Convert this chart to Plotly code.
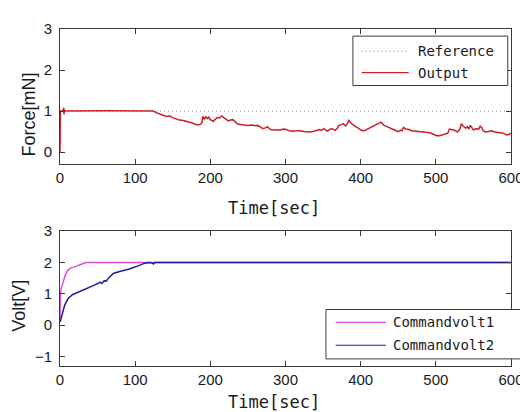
import plotly.graph_objects as go

# ---------------- data ----------------
ref_time = [0, 600]
ref_force = [1.0, 1.0]

out_time = [0, 0.5, 4, 4.8, 5.3, 5.8, 6.5, 60, 124,
            128, 133, 138, 142, 146, 150, 155, 159, 164, 168, 172, 176, 180, 184, 187, 189, 190,
            192, 194, 196, 198, 200, 202, 204, 206, 209, 212, 215, 217, 219, 222, 224, 227, 230,
            233, 235, 238, 241, 245, 250, 255, 260, 263, 267, 270, 273, 276, 278, 280, 285, 290,
            293, 297, 301, 305, 310, 315, 319, 325, 332, 338, 345, 348, 351, 354, 356, 359, 362,
            366, 369, 371, 374, 377, 380, 382, 384, 386, 388, 391, 395, 398, 401, 405, 410, 413,
            416, 420, 423, 425, 427, 429, 431, 435, 440, 444, 447, 450, 453, 455, 457, 460, 464,
            468, 472, 475, 479, 483, 488, 492, 496, 501, 505, 509, 513, 516, 518, 521, 525, 527,
            529, 532, 534, 536, 538, 540, 542, 544, 546, 548, 550, 553, 557, 559, 561, 563, 566,
            570, 574, 578, 583, 587, 590, 594, 597, 600]
out_force = [0.0, 1.0, 1.0, 1.08, 0.92, 1.04, 1.0, 1.01, 1.0,
             0.96, 0.92, 0.89, 0.87, 0.88, 0.84, 0.81, 0.78, 0.77, 0.75, 0.74, 0.71, 0.68, 0.66, 0.68, 0.72, 0.87,
             0.80, 0.86, 0.82, 0.85, 0.79, 0.77, 0.75, 0.79, 0.84, 0.83, 0.88, 0.85, 0.82, 0.79, 0.76, 0.78, 0.79,
             0.74, 0.70, 0.68, 0.67, 0.66, 0.65, 0.66, 0.64, 0.65, 0.61, 0.57, 0.59, 0.62, 0.58, 0.55, 0.54, 0.53,
             0.54, 0.56, 0.55, 0.52, 0.51, 0.52, 0.52, 0.50, 0.49, 0.51, 0.55, 0.53, 0.57, 0.53, 0.51, 0.56, 0.57,
             0.53, 0.58, 0.65, 0.67, 0.69, 0.64, 0.68, 0.77, 0.72, 0.69, 0.65, 0.61, 0.57, 0.53, 0.52, 0.57, 0.58,
             0.63, 0.66, 0.68, 0.70, 0.73, 0.69, 0.65, 0.62, 0.57, 0.55, 0.52, 0.50, 0.53, 0.52, 0.60, 0.56, 0.55,
             0.52, 0.51, 0.52, 0.50, 0.49, 0.48, 0.47, 0.44, 0.40, 0.40, 0.42, 0.44, 0.46, 0.56, 0.55, 0.53, 0.51,
             0.49, 0.56, 0.69, 0.64, 0.60, 0.58, 0.62, 0.57, 0.65, 0.60, 0.54, 0.57, 0.56, 0.63, 0.60, 0.52, 0.49,
             0.50, 0.52, 0.49, 0.48, 0.47, 0.46, 0.42, 0.43, 0.46]

cv1_time = [0, 0.4, 2, 4.3, 7, 10.7, 14, 19.3, 25.8, 30, 34.3, 40, 600]
cv1_volt = [0.15, 1.0, 1.2, 1.4, 1.6, 1.76, 1.82, 1.86, 1.92, 1.96, 2.0, 2.0, 2.0]

cv2_time = [0, 2, 4.3, 6.4, 10.7, 17, 27.8, 38.6, 45, 53.6, 55.7, 58.8, 61.3, 64.4, 70.9,
            79.4, 92.3, 105, 111.6, 118, 122, 124.5, 126, 600]
cv2_volt = [0.1, 0.31, 0.47, 0.65, 0.85, 0.98, 1.09, 1.19, 1.27, 1.37, 1.33, 1.42, 1.40, 1.5, 1.65,
            1.71, 1.79, 1.9, 1.97, 2.0, 1.99, 1.95, 2.0, 2.0]

x_ticks = [0, 100, 200, 300, 400, 500, 600]
force_ticks = [0, 1, 2, 3]
volt_ticks = [-1, 0, 1, 2, 3]

# ---------------- geometry helpers ----------------
W, H = 528, 412
ML, MR, MT, MB = 52, 13, 12, 54
PW, PH = W - ML - MR, H - MT - MB


def px(x):
    return (x - ML) / PW


def py(y):
    return (H - MB - y) / PH


RED = "#cc1f24"
MAG = "#d84ed8"
BLUE = "#1e1e96"
GRAY = "#9a9a9a"
AX = "#3a3a3a"
TXT = "#1a1a1a"
MONO = "DejaVu Sans Mono"
SANS = "Liberation Sans"

fig = go.Figure()
fig.add_trace(go.Scatter(x=ref_time, y=ref_force, mode="lines", name="Reference",
                         line=dict(color=GRAY, width=1.2, dash="1px,3px"),
                         xaxis="x", yaxis="y", showlegend=False))
fig.add_trace(go.Scatter(x=out_time, y=out_force, mode="lines", name="Output",
                         line=dict(color=RED, width=1.5),
                         xaxis="x", yaxis="y", showlegend=False))
fig.add_trace(go.Scatter(x=cv1_time, y=cv1_volt, mode="lines", name="Commandvolt1",
                         line=dict(color=MAG, width=1.5),
                         xaxis="x2", yaxis="y2", showlegend=False))
fig.add_trace(go.Scatter(x=cv2_time, y=cv2_volt, mode="lines", name="Commandvolt2",
                         line=dict(color=BLUE, width=1.5),
                         xaxis="x2", yaxis="y2", showlegend=False))

axis_common = dict(showgrid=False, zeroline=False, showline=True, linecolor=AX, linewidth=1,
                   mirror="ticks", ticks="inside", ticklen=5, tickcolor=AX,
                   ticklabeloverflow="allow",
                   tickfont=dict(family=SANS, size=15, color=TXT))

top_dom = [py(151), 1.0]
bot_dom = [0.0, py(219.5)]

fig.update_layout(
    width=W, height=H,
    margin=dict(l=ML, r=MR, t=MT, b=MB),
    paper_bgcolor="white", plot_bgcolor="white",
    showlegend=False,
    xaxis=dict(axis_common, range=[0, 600], tickvals=x_ticks, anchor="y", domain=[0, 1]),
    yaxis=dict(axis_common, range=[-0.3, 3], tickvals=force_ticks, anchor="x", domain=top_dom,
               ticklabelstandoff=4),
    xaxis2=dict(axis_common, range=[0, 600], tickvals=x_ticks, anchor="y2", domain=[0, 1]),
    yaxis2=dict(axis_common, range=[-1.3, 3], tickvals=volt_ticks, anchor="x2", domain=bot_dom,
                ticklabelstandoff=4),
)

shapes = []
annotations = []

# axis titles
for yc in (196, 395):
    annotations.append(dict(text="Time[sec]", x=px(272), y=py(yc), xref="paper", yref="paper",
                            showarrow=False, xanchor="center", yanchor="middle",
                            font=dict(family=MONO, size=17, color=TXT)))
annotations.append(dict(text="Force[mN]", x=px(20), y=py(100), xref="paper", yref="paper",
                        showarrow=False, textangle=-90, xanchor="center", yanchor="middle",
                        font=dict(family=SANS, size=18, color=TXT)))
annotations.append(dict(text="Volt[V]", x=px(10), y=py(296), xref="paper", yref="paper",
                        showarrow=False, textangle=-90, xanchor="center", yanchor="middle",
                        font=dict(family=SANS, size=18, color=TXT)))


def legend(box, items):
    x0, y0, x1, y1 = box
    shapes.append(dict(type="rect", xref="paper", yref="paper", layer="above",
                       x0=px(x0), x1=px(x1), y0=py(y1), y1=py(y0),
                       line=dict(color=AX, width=1), fillcolor="white"))
    for (lx0, lx1, ly, tx, label, color, dash) in items:
        shapes.append(dict(type="line", xref="paper", yref="paper", layer="above",
                           x0=px(lx0), x1=px(lx1), y0=py(ly), y1=py(ly),
                           line=dict(color=color, width=1.2, dash=dash)))
        annotations.append(dict(text=label, x=px(tx), y=py(ly), xref="paper", yref="paper",
                                showarrow=False, xanchor="left", yanchor="middle",
                                font=dict(family=MONO, size=14, color=TXT)))


legend((352.7, 19.3, 511.7, 70),
       [(361.7, 410, 35, 417, "Reference", GRAY, "1px,3px"),
        (361.7, 410, 56.7, 417, "Output", RED, "solid")])
legend((325, 300, 545, 350.7),
       [(335, 386.7, 313.3, 391.5, "Commandvolt1", MAG, "solid"),
        (335, 386.7, 336.7, 391.5, "Commandvolt2", BLUE, "solid")])

fig.update_layout(shapes=shapes, annotations=annotations)

fig.write_html("out.html")
